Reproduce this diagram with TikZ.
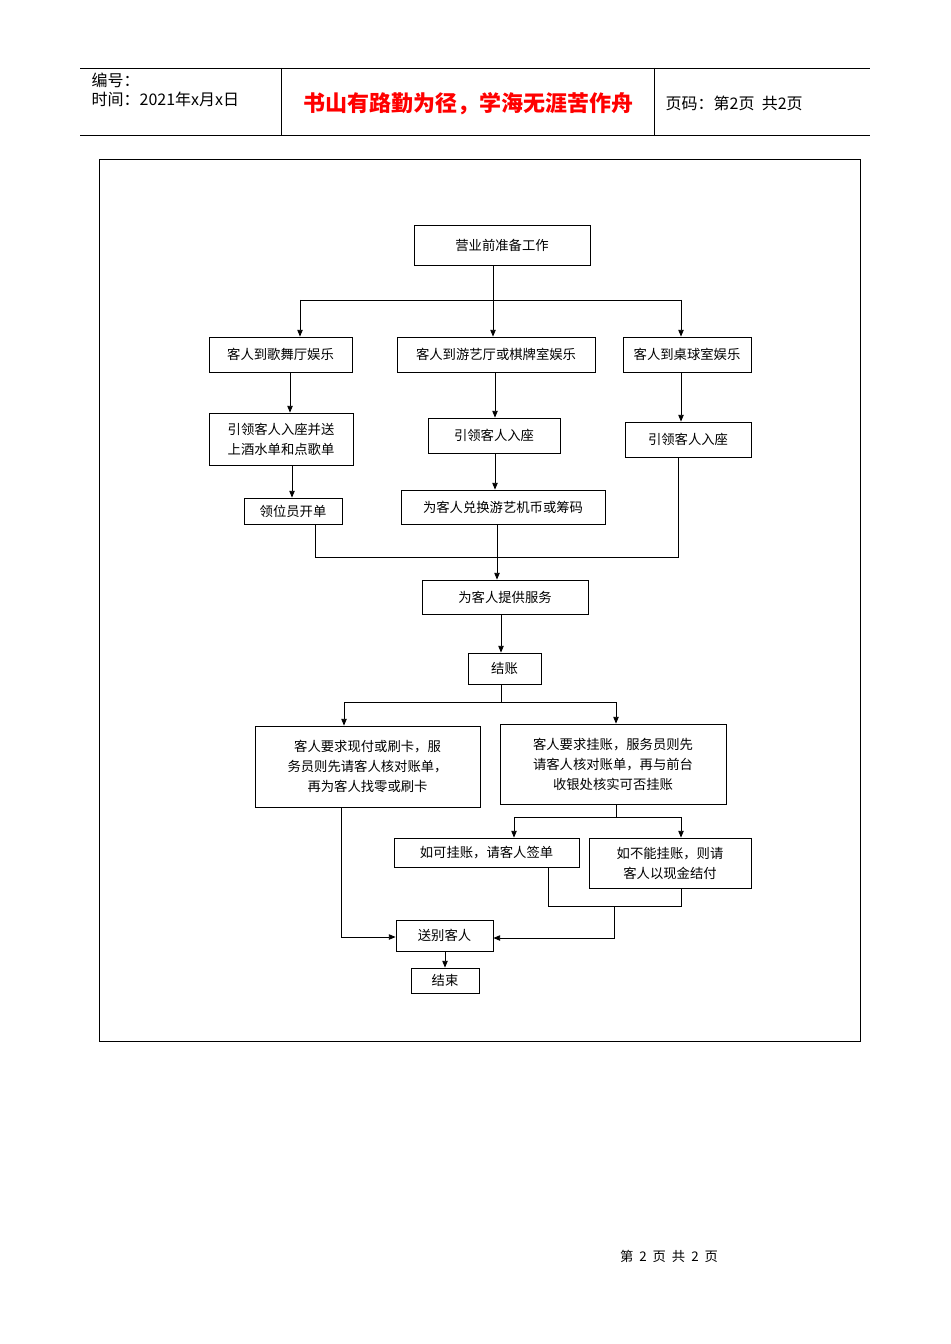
\documentclass[tikz,border=0pt]{standalone}
\usepackage{fontspec}
\setmainfont{Liberation Sans}
\newfontfamily\cjk{Noto Sans CJK SC}
\usetikzlibrary{arrows.meta}
\begin{document}
\begin{tikzpicture}[x=0.75pt,y=-0.75pt,
  box/.style={draw,line width=0.6pt,font=\cjk\fontsize{10}{15}\selectfont,inner sep=0pt,align=center},
  ar/.style={-{Triangle[length=5pt,width=4pt]},line width=0.6pt},
  ln/.style={line width=0.6pt}]
\useasboundingbox (0,0) rectangle (950,1344);
% header
\draw[line width=0.5pt] (80,68) -- (870,68) (80,135) -- (870,135) (281,68) -- (281,135) (654,68) -- (654,135);
\node[anchor=west,font=\cjk\fontsize{12}{13}\selectfont] (h1) at (87,80) {编号：};
\node[anchor=west,font=\cjk\fontsize{12}{13}\selectfont] (h2) at (87,99) {时间：2021年x月x日};
\node[font=\cjk\bfseries\fontsize{16.5}{18}\selectfont,text=red] (h3) at (468,104) {书山有路勤为径，学海无涯苦作舟};
\node[anchor=west,font=\cjk\fontsize{12}{13}\selectfont] (h4) at (661,103) {页码：第2页\ \ 共2页};
\draw[line width=0.6pt] (99,159) rectangle (860,1041);
% nodes
\node[box,minimum width=176*0.75pt,minimum height=40*0.75pt] (A) at (502,245) {营业前准备工作};
\node[box,minimum width=143*0.75pt,minimum height=35*0.75pt] (B1) at (280.5,354.5) {客人到歌舞厅娱乐};
\node[box,minimum width=198*0.75pt,minimum height=35*0.75pt] (B2) at (496,354.5) {客人到游艺厅或棋牌室娱乐};
\node[box,minimum width=128*0.75pt,minimum height=35*0.75pt] (B3) at (687,354.5) {客人到桌球室娱乐};
\node[box,minimum width=144*0.75pt,minimum height=52*0.75pt] (C1) at (281,439) {引领客人入座并送\\上酒水单和点歌单};
\node[box,minimum width=132*0.75pt,minimum height=35*0.75pt] (C2) at (494,435.5) {引领客人入座};
\node[box,minimum width=126*0.75pt,minimum height=35*0.75pt] (C3) at (688,439.5) {引领客人入座};
\node[box,minimum width=98*0.75pt,minimum height=26*0.75pt] (D1) at (293,511) {领位员开单};
\node[box,minimum width=204*0.75pt,minimum height=34*0.75pt] (D2) at (503,507) {为客人兑换游艺机币或筹码};
\node[box,minimum width=166*0.75pt,minimum height=34*0.75pt] (E) at (505,597) {为客人提供服务};
\node[box,minimum width=73*0.75pt,minimum height=31*0.75pt] (F) at (504.5,668.5) {结账};
\node[box,minimum width=225*0.75pt,minimum height=81*0.75pt] (G1) at (367.5,766.5) {客人要求现付或刷卡，服\\务员则先请客人核对账单，\\再为客人找零或刷卡};
\node[box,minimum width=226*0.75pt,minimum height=80*0.75pt] (G2) at (613,764) {客人要求挂账，服务员则先\\请客人核对账单，再与前台\\收银处核实可否挂账};
\node[box,minimum width=185*0.75pt,minimum height=29*0.75pt] (H1) at (486.5,852.5) {如可挂账，请客人签单};
\node[box,minimum width=162*0.75pt,minimum height=50*0.75pt] (H2) at (670,863) {如不能挂账，则请\\客人以现金结付};
\node[box,minimum width=97*0.75pt,minimum height=31*0.75pt] (I) at (444.5,935.5) {送别客人};
\node[box,minimum width=68*0.75pt,minimum height=25*0.75pt] (J) at (445,980.5) {结束};
\node[font=\cjk\fontsize{10}{12}\selectfont] (ft) at (669,1256) {第\ \ 2\ \ 页\ \ 共\ \ 2\ \ 页};
% connectors
\coordinate (s1) at (493,300);
\draw[ln] (A.south -| s1) -- (s1);
\draw[ln] (300,300) -- (681,300);
\draw[ar] (300,300) -- (B1.north -| 300,0);
\draw[ar] (s1) -- (B2.north -| s1);
\draw[ar] (681,300) -- (B3.north -| 681,0);
\draw[ar] (B1.south -| 290,0) -- (C1.north -| 290,0);
\draw[ar] (B2.south -| 495,0) -- (C2.north -| 495,0);
\draw[ar] (B3.south -| 681,0) -- (C3.north -| 681,0);
\draw[ar] (C1.south -| 292,0) -- (D1.north -| 292,0);
\draw[ar] (C2.south -| 495,0) -- (D2.north -| 495,0);
\draw[ln] (D1.south -| 315,0) -- (315,557) -- (678,557) -- (C3.south -| 678,0);
\draw[ar] (D2.south -| 497,0) -- (E.north -| 497,0);
\draw[ar] (E.south -| 501,0) -- (F.north -| 501,0);
\draw[ln] (F.south -| 501,0) -- (501,702);
\draw[ln] (344,702) -- (616,702);
\draw[ar] (344,702) -- (G1.north -| 344,0);
\draw[ar] (616,702) -- (G2.north -| 616,0);
\draw[ln] (G2.south -| 616,0) -- (616,817);
\draw[ln] (514,817) -- (681,817);
\draw[ar] (514,817) -- (H1.north -| 514,0);
\draw[ar] (681,817) -- (H2.north -| 681,0);
\draw[ln] (H1.south -| 548,0) -- (548,906) -- (681,906) -- (H2.south -| 681,0);
\draw[ar] (614,906) -- (614,938) -- (I.east |- 0,938);
\draw[ar] (G1.south -| 341,0) -- (341,937) -- (I.west |- 0,937);
\draw[ar] (I.south -| 445,0) -- (J.north -| 445,0);
\end{tikzpicture}
\end{document}
